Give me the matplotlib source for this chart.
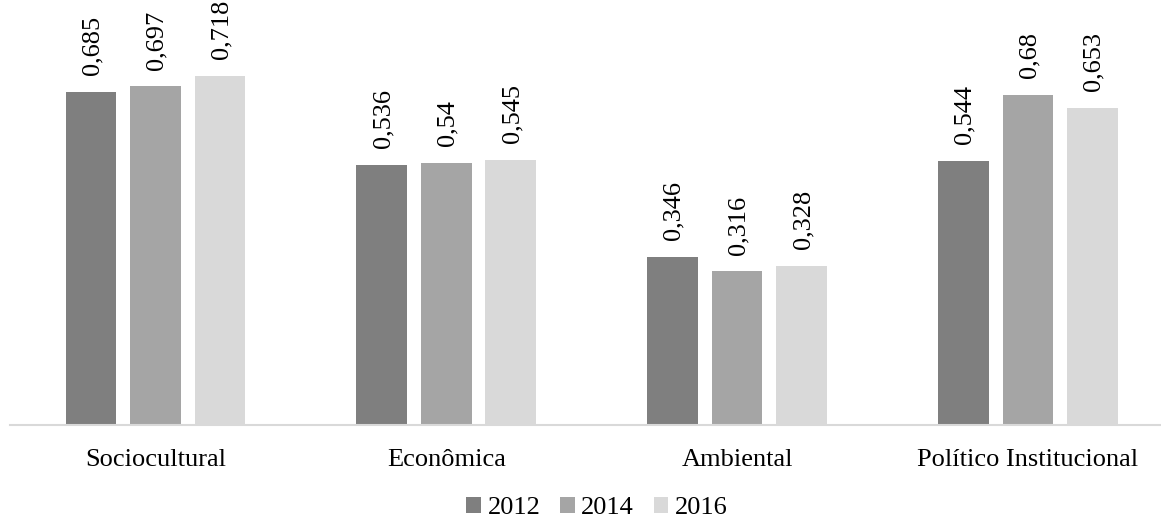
import matplotlib
matplotlib.use("Agg")
import matplotlib.pyplot as plt
from matplotlib.patches import Patch
import numpy as np

categories = ["Sociocultural", "Econômica", "Ambiental", "Político Institucional"]
years = ["2012", "2014", "2016"]
v2012 = [0.685, 0.536, 0.346, 0.544]
v2014 = [0.697, 0.540, 0.316, 0.680]
v2016 = [0.718, 0.545, 0.328, 0.653]
labels2012 = ["0,685", "0,536", "0,346", "0,544"]
labels2014 = ["0,697", "0,54", "0,316", "0,68"]
labels2016 = ["0,718", "0,545", "0,328", "0,653"]
colors = ["#7f7f7f", "#a5a5a5", "#d9d9d9"]

plt.rcParams["font.family"] = ["Liberation Serif", "DejaVu Serif"]
FS = 19

W, H = 1161, 520
fig = plt.figure(figsize=(W / 100, H / 100), dpi=100)
ax_left, ax_bottom_px = 10, 425
ax = fig.add_axes([ax_left / W, (H - ax_bottom_px) / H, (W - ax_left) / W, ax_bottom_px / H])

x = np.arange(len(categories))
bw = 0.174
off = 0.222
series = [(v2012, labels2012), (v2014, labels2014), (v2016, labels2016)]
for k, ((vals, labs), c, yr) in enumerate(zip(series, colors, years)):
    xs = x + (k - 1) * off
    ax.bar(xs, vals, width=bw, color=c, label=yr)
    for xi, v, lab in zip(xs, vals, labs):
        ax.annotate(lab, (xi, v), xytext=(1, 12), textcoords="offset points",
                    rotation=90, ha="center", va="bottom", fontsize=FS)

ax.set_xlim(-0.5, 3.458)
ax.set_ylim(0, 425 / 486)
ax.set_xticks(x)
ax.set_xticklabels(categories, fontsize=FS)
ax.tick_params(axis="x", length=0, pad=17)
ax.set_yticks([])
for s in ["top", "right", "left"]:
    ax.spines[s].set_visible(False)
ax.spines["bottom"].set_color("#d9d9d9")
ax.spines["bottom"].set_linewidth(1.5)

handles = [Patch(facecolor=c, label=y) for c, y in zip(colors, years)]
fig.legend(handles=handles, loc="center", bbox_to_anchor=(597 / W, 1 - 508 / H), ncol=3,
           frameon=False, fontsize=FS, handlelength=0.55, handleheight=0.55,
           handletextpad=0.25, columnspacing=0.75, borderpad=0)

fig.savefig("out.png", dpi=100)
